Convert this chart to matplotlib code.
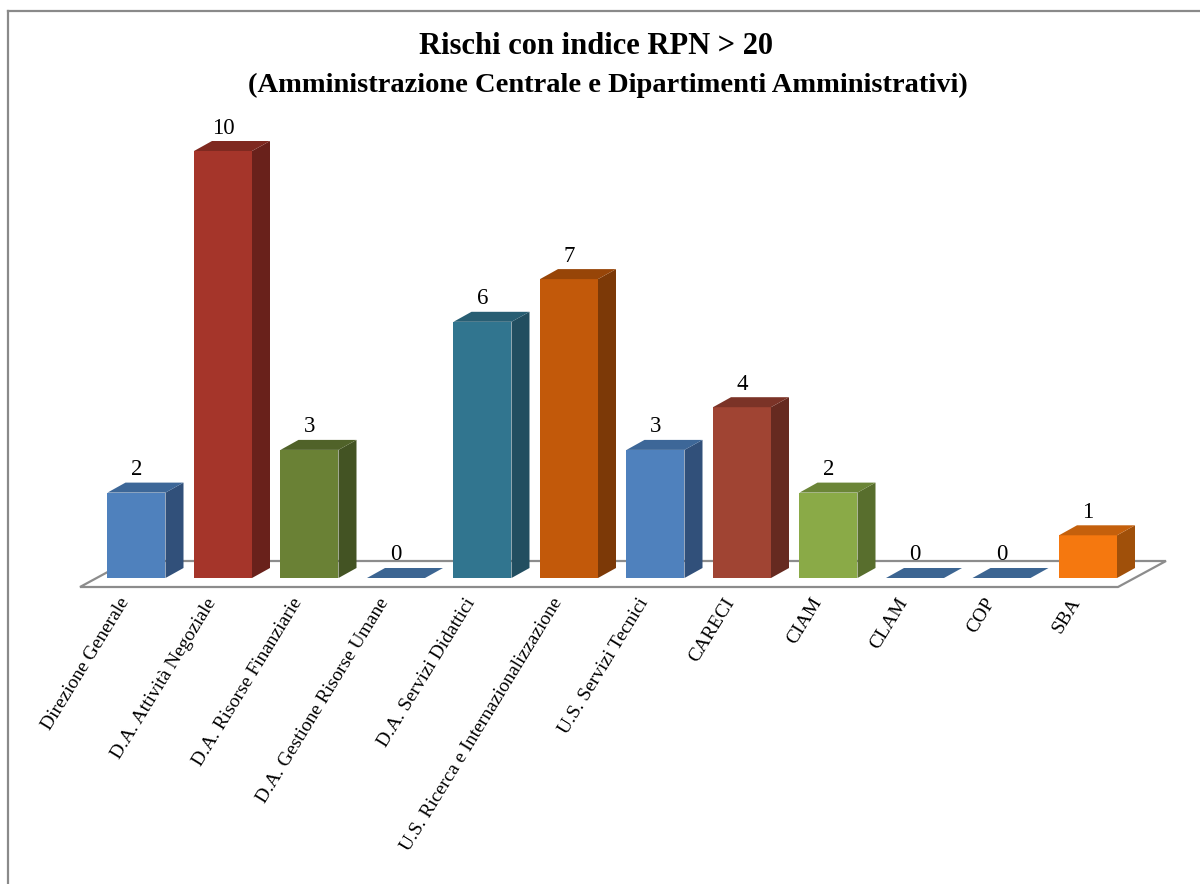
import matplotlib
matplotlib.use("Agg")
import matplotlib.pyplot as plt
from matplotlib.patches import Polygon
from matplotlib.lines import Line2D

# ---------------- data ----------------
categories = [
    "Direzione Generale",
    "D.A. Attività Negoziale",
    "D.A. Risorse Finanziarie",
    "D.A. Gestione Risorse Umane",
    "D.A. Servizi Didattici",
    "U.S. Ricerca e Internazionalizzazione",
    "U.S. Servizi Tecnici",
    "CARECI",
    "CIAM",
    "CLAM",
    "COP",
    "SBA",
]
values = [2, 10, 3, 0, 6, 7, 3, 4, 2, 0, 0, 1]
title = "Rischi con indice RPN > 20"
subtitle = "(Amministrazione Centrale e Dipartimenti Amministrativi)"

# ---------------- styles ----------------
# (front, top, side) colours per bar
colors = [
    ("#4F81BD", "#3D6798", "#31507A"),
    ("#A5352A", "#7F2920", "#69211B"),
    ("#6A8135", "#506229", "#435323"),
    ("#4F81BD", "#3C6592", "#31507A"),
    ("#31758F", "#285E73", "#224E60"),
    ("#C2590A", "#974508", "#7C3907"),
    ("#4F81BD", "#3D6798", "#31507A"),
    ("#A04433", "#7B3327", "#662A20"),
    ("#8AAA47", "#6B8537", "#586E2D"),
    ("#4F81BD", "#3C6592", "#31507A"),
    ("#4F81BD", "#3C6592", "#31507A"),
    ("#F5780F", "#C4600C", "#A0500A"),
]
FONT = ["Liberation Serif", "DejaVu Serif"]

W, H = 1200, 884
fig = plt.figure(figsize=(W / 100, H / 100), dpi=100)
fig.patch.set_facecolor("white")

# pixel geometry of the plot area
x0_px, step_px = 136.5, 86.5      # centre of first category, spacing
base_px, unit_px = 578.0, 42.7    # baseline (from top) and px per unit
xlim = (-1.4, 12.2)
ylim = (-0.5, 11.0)
left_px = x0_px + xlim[0] * step_px
right_px = x0_px + xlim[1] * step_px
bottom_px = base_px - ylim[0] * unit_px
top_px = base_px - ylim[1] * unit_px
ax = fig.add_axes([left_px / W, 1 - bottom_px / H,
                   (right_px - left_px) / W, (bottom_px - top_px) / H])
ax.set_xlim(*xlim)
ax.set_ylim(*ylim)
ax.axis("off")

# 3D offsets expressed in data units
bw = 58 / step_px
ddx = 18 / step_px
ddy = 10 / unit_px

# floor
fx0, fx1 = (80 - x0_px) / step_px, (1118 - x0_px) / step_px
fy = (base_px - 587) / unit_px
fdx, fdy = 48 / step_px, 26 / unit_px
floor = Polygon([(fx0, fy), (fx1, fy), (fx1 + fdx, fy + fdy), (fx0 + fdx, fy + fdy)],
                closed=True, facecolor="white", edgecolor="#8C8C8C", lw=1.6,
                clip_on=False, zorder=1)
ax.add_patch(floor)

for i, (v, (cf, ct, cs)) in enumerate(zip(values, colors)):
    xl, xr = i - bw / 2, i + bw / 2
    if v > 0:
        front = Polygon([(xl, 0), (xr, 0), (xr, v), (xl, v)], closed=True,
                        facecolor=cf, edgecolor="none", clip_on=False, zorder=3)
        side = Polygon([(xr, 0), (xr + ddx, ddy), (xr + ddx, v + ddy), (xr, v)], closed=True,
                       facecolor=cs, edgecolor="none", clip_on=False, zorder=3)
        ax.add_patch(front)
        ax.add_patch(side)
    topf = Polygon([(xl, v), (xr, v), (xr + ddx, v + ddy), (xl + ddx, v + ddy)], closed=True,
                   facecolor=ct, edgecolor="none", clip_on=False, zorder=3)
    ax.add_patch(topf)
    ax.text(i, v + 23 / unit_px, str(v), ha="center", va="center",
            fontsize=16.5, family=FONT, color="black", zorder=4)

# category labels
lab_y = (base_px - 595) / unit_px
for i, c in enumerate(categories):
    ax.text(i - 18 / step_px, lab_y, c, rotation=58.5, rotation_mode="anchor",
            ha="right", va="top", fontsize=14, family=FONT, color="black")

# titles
fig.text(596 / W, 1 - 47 / H, title, ha="center", va="center",
         fontsize=22, fontweight="bold", family=FONT)
fig.text(608 / W, 1 - 85 / H, subtitle, ha="center", va="center",
         fontsize=20.5, fontweight="bold", family=FONT)

# chart border (top & left visible)
fig.add_artist(Line2D([8 / W, 1.0], [1 - 11 / H, 1 - 11 / H], color="#8A8A8A", lw=1.6,
                      transform=fig.transFigure))
fig.add_artist(Line2D([8 / W, 8 / W], [0.0, 1 - 11 / H], color="#8A8A8A", lw=1.6,
                      transform=fig.transFigure))

fig.savefig("out.png", dpi=100, facecolor="white")
